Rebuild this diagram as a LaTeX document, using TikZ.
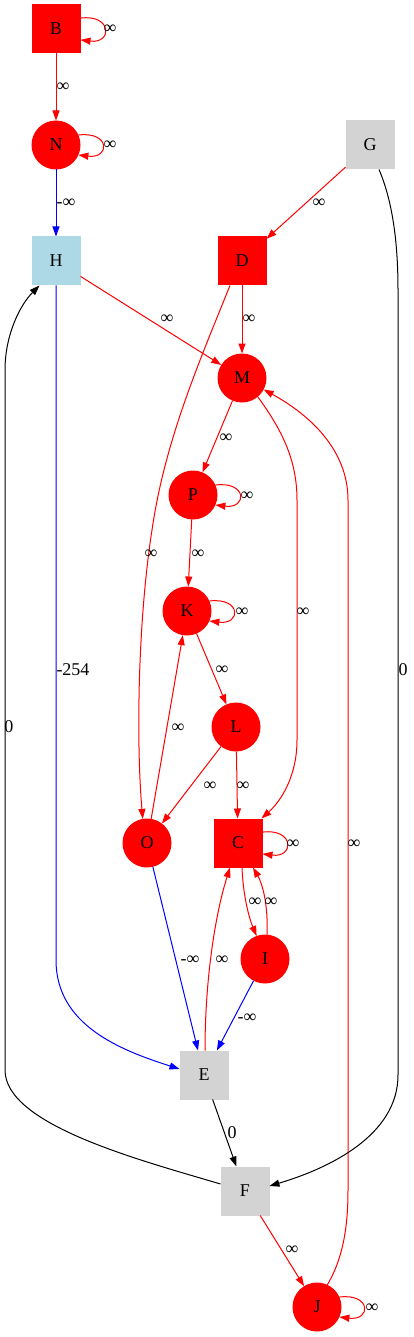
\documentclass[tikz,border=0pt]{standalone}
\usepackage{fontspec}
\setmainfont{Liberation Serif}
\usetikzlibrary{arrows.meta,calc}
\definecolor{lgray}{HTML}{D3D3D3}
\definecolor{lblue}{HTML}{ADD8E6}
\newcommand\myloop[1]{\draw[re] (#1.24) .. controls +(32,-4) and +(32,4) .. (#1.-24);}
\begin{document}
\begin{tikzpicture}[x=1pt,y=-1pt,
  font=\fontsize{18}{20}\selectfont,
  sq/.style={rectangle,minimum size=49pt,inner sep=0pt,outer sep=0pt,draw=none},
  ci/.style={circle,minimum size=49pt,inner sep=0pt,outer sep=0pt,draw=none},
  rn/.style={fill=red},
  gn/.style={fill=lgray},
  bn/.style={fill=lblue},
  e/.style={line width=1pt,-{Triangle[length=10pt,width=7pt]}},
  re/.style={e,draw=red},
  be/.style={e,draw=blue},
  ke/.style={e,draw=black},
  lbl/.style={inner sep=0pt}
]
\useasboundingbox (0,0) rectangle (413,1337);
% nodes
\node[sq,rn] (B) at (56,29) {B};
\node[ci,rn] (N) at (56,145) {N};
\node[sq,gn] (G) at (370,145) {G};
\node[sq,bn] (H) at (56,261) {H};
\node[sq,rn] (D) at (242,261) {D};
\node[ci,rn] (M) at (242,378) {M};
\node[ci,rn] (P) at (193,495) {P};
\node[ci,rn] (K) at (187,611) {K};
\node[ci,rn] (L) at (236,727) {L};
\node[ci,rn] (O) at (147,843) {O};
\node[sq,rn] (C) at (238,843) {C};
\node[ci,rn] (I) at (265,959) {I};
\node[sq,gn] (E) at (204,1075) {E};
\node[sq,gn] (F) at (245,1191) {F};
\node[ci,rn] (J) at (317,1307) {J};
% straight edges
\draw[re] (B) -- (N);
\draw[be] (N) -- (H);
\draw[re] (G) -- (D);
\draw[re] (H) -- (M);
\draw[re] (D) -- (M);
\draw[re] (M) -- (P);
\draw[re] (P) -- (K);
\draw[re] (K) -- (L);
\draw[re] (O) -- (K);
\draw[re] (L) -- (O);
\draw[re] (L) -- (C);
\draw[be] (O) -- (E);
\draw[be] (I) -- (E);
\draw[ke] (E) -- (F);
\draw[re] (F) -- (J);
% self loops
\myloop{B}
\myloop{N}
\myloop{P}
\myloop{K}
\myloop{C}
\myloop{J}
% curved edges
\draw[re] ($(D.south)+(-12,0)$) .. controls (200,360) and (165,440) .. (152,530) .. controls (138,620) and (136,740) .. (O.100);
\draw[re] (M.-50) .. controls (282,430) and (297,460) .. (297,500) -- (297,740) .. controls (297,775) and (282,800) .. ($(C.north east)+(-1,0)$);
\draw[re] (J.65) .. controls (342,1260) and (348,1230) .. (348,1190) -- (348,500) .. controls (348,450) and (310,415) .. (M.-28);
\draw[ke] ($(G.south)+(9,0)$) .. controls (392,200) and (398,240) .. (398,290) -- (398,1075) .. controls (398,1135) and (330,1168) .. ($(F.east)+(0,-5)$);
\draw[ke] ($(F.west)+(0,-7)$) .. controls (140,1160) and (5,1125) .. (5,1070) -- (5,370) .. controls (5,335) and (20,305) .. ($(H.south west)+(8,0)$);
\draw[be] (H.south) -- (56,960) .. controls (56,1025) and (120,1050) .. ($(E.west)+(0,-6)$);
\draw[re] ($(E.north)+(1,0)$) .. controls (205,980) and (215,915) .. ($(C.south)+(-8,0)$);
\draw[re] ($(C.south)+(4,0)$) .. controls (243,895) and (249,918) .. (I.110);
\draw[re] (I.85) .. controls (268,905) and (263,885) .. ($(C.south)+(15,0)$);
% labels
\node[lbl] (l1) at (63,87) {∞};
\node[lbl] (l2) at (110,29) {∞};
\node[lbl] (l3) at (110,145) {∞};
\node[lbl] (l4) at (66,203) {-∞};
\node[lbl] (l5) at (319,203) {∞};
\node[lbl] (l6) at (167,319) {∞};
\node[lbl] (l7) at (249,319) {∞};
\node[lbl] (l8) at (226,438) {∞};
\node[lbl] (l9) at (247,496) {∞};
\node[lbl] (l10) at (151,554) {∞};
\node[lbl] (l11) at (198,554) {∞};
\node[lbl] (l12) at (303,612) {∞};
\node[lbl] (l13) at (242,612) {∞};
\node[lbl] (l14) at (222,670) {∞};
\node[lbl] (l15) at (403,670) {0};
\node[lbl] (l16) at (73,670) {-254};
\node[lbl] (l17) at (9,727) {0};
\node[lbl] (l18) at (178,728) {∞};
\node[lbl] (l19) at (210,786) {∞};
\node[lbl] (l20) at (243,786) {∞};
\node[lbl] (l21) at (293,844) {∞};
\node[lbl] (l22) at (354,844) {∞};
\node[lbl] (l23) at (255,902) {∞};
\node[lbl] (l24) at (271,902) {∞};
\node[lbl] (l25) at (190,960) {-∞};
\node[lbl] (l26) at (222,960) {∞};
\node[lbl] (l27) at (247,1018) {-∞};
\node[lbl] (l28) at (232,1133) {0};
\node[lbl] (l29) at (292,1250) {∞};
\node[lbl] (l30) at (372,1308) {∞};
\end{tikzpicture}
\end{document}
